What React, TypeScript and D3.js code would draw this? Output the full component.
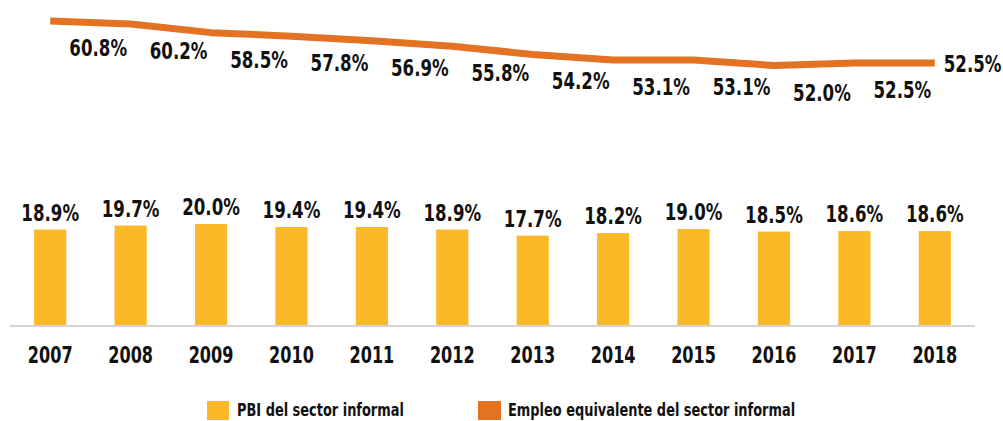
import React from 'react'
import { scaleBand, scaleLinear, line } from 'd3'

// data
const years = ['2007', '2008', '2009', '2010', '2011', '2012', '2013', '2014', '2015', '2016', '2017', '2018']
const pbiValues = [18.9, 19.7, 20.0, 19.4, 19.4, 18.9, 17.7, 18.2, 19.0, 18.5, 18.6, 18.6]
const empleoValues = [60.8, 60.2, 58.5, 57.8, 56.9, 55.8, 54.2, 53.1, 53.1, 52.0, 52.5, 52.5]
const seriesNames = ['PBI del sector informal', 'Empleo equivalente del sector informal']

const W = 1003
const H = 421
const barColor = '#FBB827'
const lineColor = '#E37222'
const font = "'DejaVu Sans', sans-serif"

const fmt = (v: number) => v.toFixed(1) + '%'

// the reference uses a condensed face, so squeeze DejaVu horizontally
function Label(props: { x: number; y: number; size: number; sx: number; anchor?: string; children: React.ReactNode }) {
  return (
    <text
      transform={`translate(${props.x},${props.y}) scale(${props.sx},1)`}
      textAnchor={props.anchor || 'middle'}
      fontSize={props.size}
      fontWeight="bold"
      fill="#111"
    >
      {props.children}
    </text>
  )
}

export default function App() {
  const x = scaleBand<string>().domain(years).range([10, 975]).paddingInner(0.6).paddingOuter(0.3)
  // bars: 0 at the baseline
  const yBar = scaleLinear().domain([0, 20]).range([325, 224])
  // line sits on its own (secondary) axis
  const yLine = scaleLinear().domain([52.5, 60.8]).range([63, 21])

  const cx = (d: string) => (x(d) || 0) + x.bandwidth() / 2

  const pathLine = line<number>()
    .x((_, i) => cx(years[i]))
    .y(d => yLine(d))

  return (
    <svg width={W} height={H} style={{ position: 'absolute', left: 0, top: 0 }} fontFamily={font}>
      <rect width={W} height={H} fill="#fff" />

      {/* bars */}
      {pbiValues.map((v, i) => (
        <g key={'b' + i}>
          <rect x={x(years[i])} y={yBar(v)} width={x.bandwidth()} height={yBar(0) - yBar(v)} fill={barColor} />
          <Label x={cx(years[i])} y={yBar(v) - 9} size={22.5} sx={0.74}>{fmt(v)}</Label>
        </g>
      ))}

      {/* baseline */}
      <line x1={10} x2={975} y1={yBar(0) + 1} y2={yBar(0) + 1} stroke="#d4d4d4" strokeWidth={2} />

      {/* year labels */}
      {years.map(d => (
        <Label key={d} x={cx(d)} y={363} size={23} sx={0.7}>{d}</Label>
      ))}

      {/* line */}
      <path d={pathLine(empleoValues) || ''} fill="none" stroke={lineColor} strokeWidth={7} strokeLinejoin="round" />
      {empleoValues.map((v, i) => {
        const last = i === empleoValues.length - 1
        return (
          <Label
            key={'l' + i}
            x={last ? cx(years[i]) + 9 : cx(years[i]) + 48}
            y={last ? yLine(v) + 9 : yLine(v) + 35}
            anchor={last ? 'start' : 'middle'}
            size={22.5}
            sx={0.74}
          >
            {fmt(v)}
          </Label>
        )
      })}

      {/* legend */}
      <rect x={207} y={401} width={22} height={19} fill={barColor} />
      <Label x={237} y={416} size={17.5} sx={0.74} anchor="start">{seriesNames[0]}</Label>
      <rect x={478} y={401} width={23} height={19} fill={lineColor} />
      <Label x={508} y={416} size={17.5} sx={0.74} anchor="start">{seriesNames[1]}</Label>
    </svg>
  )
}
